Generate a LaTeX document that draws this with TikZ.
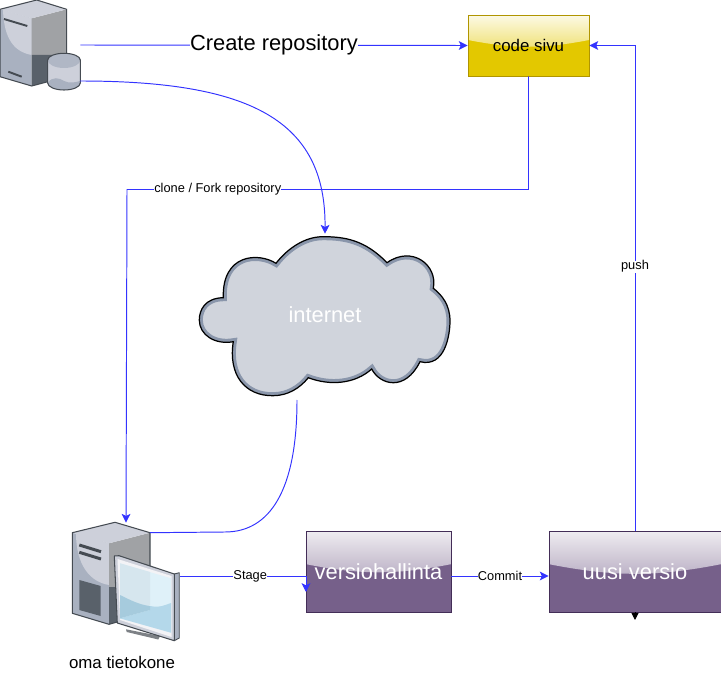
\documentclass[tikz,border=0pt]{standalone}
\usepackage{fontspec}
\setmainfont{Liberation Sans}
\usepackage{tikz}
\usetikzlibrary{arrows.meta,calc}
\definecolor{linkblue}{HTML}{3333FF}
\definecolor{codefill}{HTML}{E3C800}
\definecolor{codeedge}{HTML}{B09500}
\definecolor{versiofill}{HTML}{76608A}
\definecolor{versioedge}{HTML}{432D57}
\definecolor{cloudfill}{HTML}{D0D4DC}
\definecolor{cloudring}{HTML}{8A96AB}
\definecolor{iconlight}{HTML}{CDD0DA}
\definecolor{iconmid}{HTML}{A9B1C0}
\definecolor{icongrey}{HTML}{A0A2A5}
\definecolor{icondark}{HTML}{59616A}
\definecolor{iconedge}{HTML}{454B52}
\definecolor{screenpale}{HTML}{D6E6EE}
\definecolor{screenglow}{HTML}{DFF1F9}
\definecolor{screenblue}{HTML}{B4D8EA}
\definecolor{screenwave}{HTML}{A6CBDD}

\begin{document}
\begin{tikzpicture}[x=0.02cm,y=0.02cm]
	\tikzstyle{every node}+=[inner sep=0pt]
	\tikzstyle{link}=[draw=linkblue,line width=0.55pt,-{Stealth[length=5pt,width=5pt,inset=1.2pt]}]
	\tikzstyle{edgelabel}=[fill=white,text=black,font=\fontsize{7.3}{9}\selectfont]
	\tikzstyle{bigtext}=[font=\fontsize{12.45}{14}\selectfont]
	\tikzset{glassbox/.style 2 args={draw,line width=0.55pt,bigtext,path picture={
		\fill [top color=#1,bottom color=#2] (path picture bounding box.north west)
			-- (path picture bounding box.north east)
			-- ($(path picture bounding box.north east)!0.41!(path picture bounding box.south east)$)
			to[bend left=11] ($(path picture bounding box.north west)!0.41!(path picture bounding box.south west)$)
			-- cycle;
	}}}
	\useasboundingbox (0,0) rectangle (721,-679);

	\node (server) at (40,-45) [minimum width=1.6cm,minimum height=1.8cm] {};
	\coordinate (serverdb) at (80,-81);
	\fill [iconmid] (0,-9.3) -- (31.7,-18.3) -- (31.7,-86) -- (0,-76.7) -- cycle;
	\fill [iconlight] (3,-10) -- (31.7,-18.3) -- (31.7,-55) .. controls (15,-52) and (4,-40) .. (3,-10);
	\fill [icongrey] (31.7,-18.3) -- (66.7,-9.3) -- (66.7,-55) -- (31.7,-55) -- cycle;
	\fill [icondark] (31.7,-55) -- (66.7,-55) -- (66.7,-76.7) -- (31.7,-86) -- cycle;
	\fill [iconlight] (0,-9.3) -- (36.7,0) -- (66.7,-9.3) -- (31.7,-18.3) -- cycle;
	\draw [iconedge,line width=0.6pt,line join=round] (0,-9.3) -- (36.7,0) -- (66.7,-9.3) -- (66.7,-76.7) -- (31.7,-86) -- (0,-76.7) -- cycle;
	\draw [iconedge,line width=1.1pt] (4,-19) -- (27.3,-26);
	\draw [iconedge,line width=1.1pt] (8.3,-71.7) -- (21.7,-76.7);
	\fill [iconlight] (47.7,-60) -- (47.7,-83) arc (180:360:16.3 and 7) -- (80.3,-60) -- cycle;
	\fill [iconmid] (47.7,-83) .. controls (52,-76) and (60,-78) .. (64,-81) .. controls (70,-84) and (76,-82) .. (80.3,-81) -- (80.3,-83) arc (360:180:16.3 and 7) -- cycle;
	\fill [iconmid!80!iconlight] (47.7,-60) arc (180:360:16.3 and 8) arc (0:180:16.3 and 6.7);
	\draw [iconedge,line width=0.6pt] (47.7,-60) arc (180:0:16.3 and 6.7) -- (80.3,-83) arc (360:180:16.3 and 7) -- cycle;

	\node (code) at (528.5,-45.5) [glassbox={codefill!10!white}{codefill!90!white},fill=codefill,draw=codeedge,minimum width=2.42cm,minimum height=1.22cm,font=\fontsize{9.6}{12}\selectfont] {code sivu};

	\def\cloudpath{(223.3,-297.7) .. controls (205,-298) and (199.3,-310) .. (199.3,-320)
		.. controls (199.3,-335) and (215,-345) .. (233.3,-341.7)
		.. controls (228,-375) and (245,-396) .. (273,-395.7)
		.. controls (288,-395.7) and (300,-388) .. (308.3,-377.7)
		.. controls (330,-386) and (355,-384) .. (371.7,-369)
		.. controls (380,-385) and (405,-392) .. (420,-361.7)
		.. controls (445,-368) and (450,-335) .. (450,-321)
		.. controls (450,-305) and (442,-295) .. (433.3,-288.3)
		.. controls (438,-265) and (412,-245) .. (387,-262.7)
		.. controls (365,-240) and (345,-236.7) .. (323,-236.7)
		.. controls (305,-236.7) and (288,-248) .. (276,-263.3)
		.. controls (258,-252) and (222,-254) .. (223.3,-297.7) -- cycle}
	\fill [cloudfill] \cloudpath;
	\begin{scope}
		\clip \cloudpath;
		\draw [cloudring,line width=4pt] \cloudpath;
	\end{scope}
	\draw [black,line width=0.7pt] \cloudpath;
	\node (internet) at (325,-315) [minimum width=5cm,minimum height=3.24cm,text=white,bigtext] {internet};
	\coordinate (cloudout) at (297,-400);

	\node (pc) at (126,-576) [minimum width=2.16cm,minimum height=2.12cm] {};
	\coordinate (pctop) at (150,-532.7);
	\fill [iconmid] (72.3,-532.7) -- (109,-543.3) -- (109,-624.3) -- (72.3,-613.3) -- cycle;
	\fill [iconlight] (76,-533) -- (109,-543.3) -- (109,-585) .. controls (90,-582) and (76,-565) .. (76,-533);
	\fill [icongrey] (109,-543.3) -- (150,-532.7) -- (150,-587) -- (109,-587) -- cycle;
	\fill [icondark] (109,-587) -- (150,-587) -- (150,-613) -- (109,-624.3) -- cycle;
	\fill [iconlight] (72.3,-532.7) -- (115,-522.3) -- (150,-532.7) -- (109,-543.3) -- cycle;
	\draw [iconedge,line width=0.6pt,line join=round] (72.3,-532.7) -- (115,-522.3) -- (150,-532.7) -- (150,-613) -- (109,-624.3) -- (72.3,-613.3) -- cycle;
	\draw [iconedge,line width=1.7pt] (79.3,-545) -- (101,-551.7);
	\draw [iconedge,line width=1.7pt] (79.3,-552.3) -- (101,-559);
	\fill [icondark] (79.3,-580) -- (100.7,-586) -- (100.7,-616) -- (79.3,-610) -- cycle;
	\fill [iconedge!70!white] (126,-629.3) -- (160,-636) -- (158.3,-639.5) -- (126.7,-632) -- cycle;
	\draw [iconedge,fill=iconmid,line width=0.5pt,line join=round] (174.3,-574) -- (179.3,-572.7) -- (179.3,-638) -- (174.3,-640.7) -- cycle;
	\draw [iconedge,fill=iconlight,line width=0.6pt,line join=round] (114.3,-556) -- (119,-555.7) -- (174.3,-574) -- (174.3,-640.7) -- (117.3,-623) -- cycle;
	\fill [white!75!iconlight] (117.5,-559) -- (171.5,-576) -- (171.5,-637) -- (120,-620) -- cycle;
	\fill [screenglow] (120,-563.3) -- (171,-578.3) -- (171,-632.7) -- (120,-618.3) -- cycle;
	\fill [screenpale] (120,-563.3) -- (150,-572) -- (150,-605) -- (120,-618.3) -- cycle;
	\fill [screenblue] (150,-606) .. controls (160,-608) and (165,-605) .. (171,-603) -- (171,-632.7) -- (120,-618.3) -- (150,-610) -- cycle;
	\fill [screenwave] (120,-595) .. controls (130,-600) and (140,-605) .. (150,-606) -- (150,-610) -- (120,-618.3) -- cycle;
	\node (pclabel) at (122,-662) [font=\fontsize{9.6}{12}\selectfont] {oma tietokone};

	\node (versio) at (378.5,-571.5) [glassbox={versiofill!12!white}{versiofill!80!white},fill=versiofill,draw=versioedge,text=white,minimum width=2.9cm,minimum height=1.62cm] {versiohallinta};
	\node (uusi) at (635,-571.5) [glassbox={versiofill!12!white}{versiofill!80!white},fill=versiofill,draw=versioedge,text=white,minimum width=3.44cm,minimum height=1.62cm] {uusi versio};

	\coordinate (clonebend) at (127,-189.5);
	\coordinate (stagein) at (306,-592);
	\coordinate (uusitip) at (635,-620);

	\draw [link] (server.east) -- node [edgelabel,bigtext] {Create repository} (code.west);
	\draw [link] (serverdb) .. controls (250,-81) and (326,-120) .. (internet.north);
	\draw [link] (code.south) |- node [edgelabel,pos=0.887] {clone / Fork repository} (clonebend) -- (pc.north);
	\draw [draw=linkblue,line width=0.55pt] (cloudout) .. controls (297,-490) and (270,-532) .. (225,-532) -- (pctop);
	\draw [link] (pc.east) -| node [edgelabel,pos=0.278] {Stage} (stagein);
	\draw [link] (pc.east -| versio.east) -- node [edgelabel] {Commit} (pc.east -| uusi.west);
	\draw [link] (uusi.north) |- node [edgelabel,pos=0.272] {push} (code.east);
	\draw [black,line width=0.55pt,-{Stealth[length=4pt,width=4pt,inset=0pt]}] (uusi.south) -- (uusitip);
\end{tikzpicture}
\end{document}
